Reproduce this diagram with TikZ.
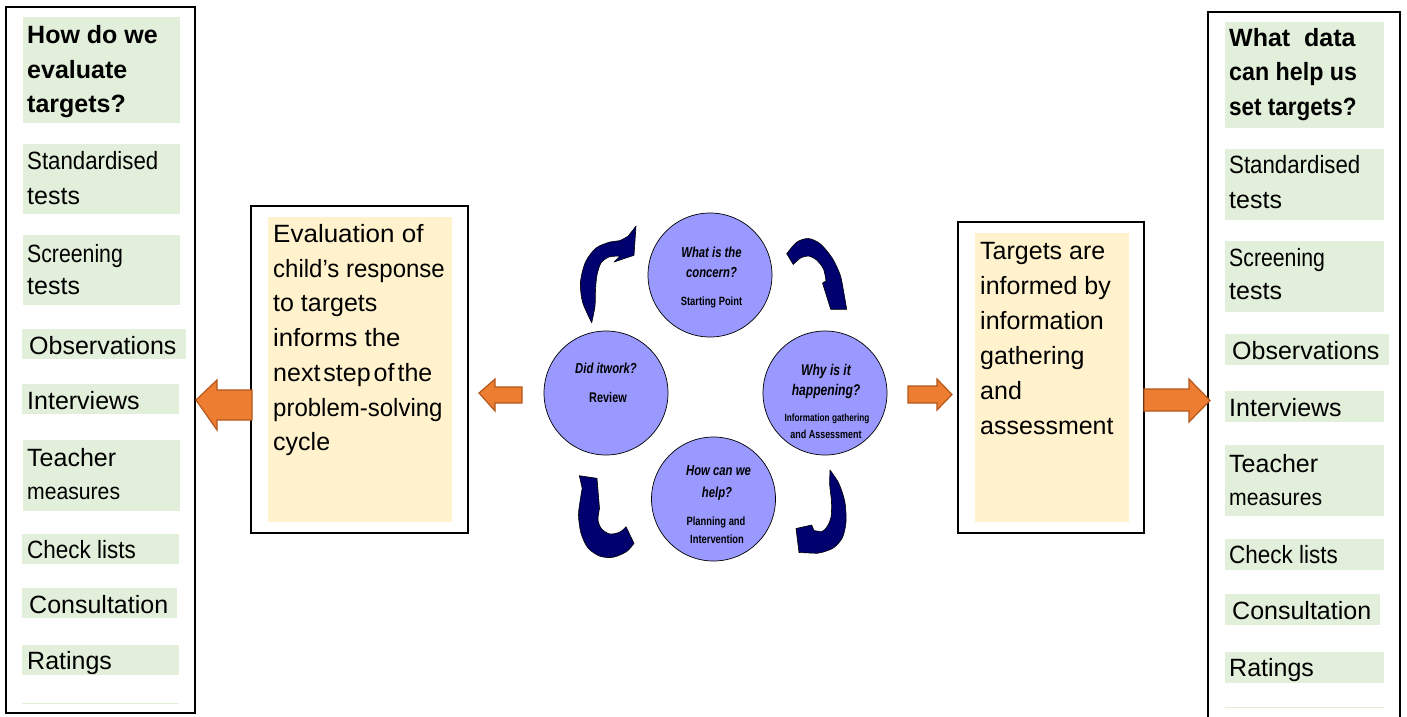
\documentclass[tikz,border=0pt]{standalone}
\usepackage{fontspec}
\setmainfont{Liberation Sans}
\newfontfamily\narrowf[FakeStretch=0.78]{Liberation Sans}
\usepackage{graphicx}
\definecolor{gfill}{HTML}{E2EFDA}
\definecolor{bfill}{HTML}{FFF2CC}
\definecolor{cfill}{HTML}{9999FF}
\definecolor{navyc}{HTML}{00006E}
\definecolor{ofill}{HTML}{ED7D31}
\definecolor{oline}{HTML}{B4581C}
\newcommand\sx[2]{\scalebox{#1}[1]{#2}}
\tikzset{
  ln/.style={anchor=base west, inner sep=0pt, font=\fontsize{25}{30}\selectfont},
  lnb/.style={ln, font=\fontsize{25}{30}\selectfont\bfseries},
  ct/.style={anchor=base, inner sep=0pt, font=\narrowf\fontsize{14.5}{16}\selectfont\bfseries\itshape},
  cs/.style={anchor=base, inner sep=0pt, font=\narrowf\fontsize{12}{14}\selectfont\bfseries},
  circ/.style={circle, draw=black, line width=0.7pt, fill=cfill, minimum size=124pt, inner sep=0pt},
  frame/.style={draw=black, line width=1.8pt},
  barrow/.style={fill=ofill, draw=oline, line width=1.2pt, line join=miter},
  carrow/.style={fill=navyc, draw=black, line width=0.6pt, line join=round},
}
\begin{document}
\begin{tikzpicture}[x=1pt,y=-1pt]
\useasboundingbox (0,0) rectangle (1407,716);
\fill[white] (0,0) rectangle (1407,716);

% ---------- left column ----------
\draw[frame] (6,7) rectangle (195,713);
\fill[gfill] (23,17) rectangle (180,123);
\fill[gfill] (23,144) rectangle (180,214);
\fill[gfill] (23,235) rectangle (180,305);
\fill[gfill] (22,329) rectangle (186,359);
\fill[gfill] (22,384) rectangle (179,414);
\fill[gfill] (23,440) rectangle (180,511);
\fill[gfill] (22,534) rectangle (179,564);
\fill[gfill] (22,588) rectangle (177,618);
\fill[gfill] (22,645) rectangle (179,675);
\fill[gfill] (22,702.5) rectangle (179,704);

\node[lnb] (lt1) at (27,43.5) {How do we};
\node[lnb] (lt2) at (27,78) {evaluate};
\node[lnb] (lt3) at (27,112.5) {targets?};
\node[ln] (ls1) at (27,169) {\sx{0.89}{Standardised}};
\node[ln] (ls2) at (27,204) {tests};
\node[ln] (lsc1) at (27,262) {\sx{0.85}{Screening}};
\node[ln] (lsc2) at (27,294) {tests};
\node[ln] (lob) at (29,354) {Observations};
\node[ln] (lin) at (27,409) {Interviews};
\node[ln] (ltm1) at (27,466) {Teacher};
\node[ln, font=\fontsize{23}{28}\selectfont] (ltm2) at (27,499) {\sx{0.92}{measures}};
\node[ln] (lcl) at (27,558) {\sx{0.9}{Check lists}};
\node[ln] (lco) at (29,613) {Consultation};
\node[ln] (lra) at (27,669) {Ratings};

% ---------- right column ----------
\draw[frame] (1208,12) rectangle (1400,720);
\fill[gfill] (1225,22) rectangle (1384,128);
\fill[gfill] (1225,149) rectangle (1384,220);
\fill[gfill] (1225,241) rectangle (1384,312);
\fill[gfill] (1225,334) rectangle (1389,365);
\fill[gfill] (1225,391) rectangle (1384,422);
\fill[gfill] (1225,445) rectangle (1384,516);
\fill[gfill] (1225,539) rectangle (1384,570);
\fill[gfill] (1225,594) rectangle (1380,625);
\fill[gfill] (1225,652) rectangle (1384,683);
\fill[gfill] (1225,706.5) rectangle (1384,708);

\node[lnb] (rt1) at (1229,46) {What\ \ data};
\node[lnb] (rt2) at (1229,80.5) {\sx{0.93}{can help us}};
\node[lnb] (rt3) at (1229,115) {\sx{0.9}{set targets?}};
\node[ln] (rs1) at (1229,173) {\sx{0.89}{Standardised}};
\node[ln] (rs2) at (1229,208) {tests};
\node[ln] (rsc1) at (1229,266) {\sx{0.85}{Screening}};
\node[ln] (rsc2) at (1229,299) {tests};
\node[ln] (rob) at (1232,359) {Observations};
\node[ln] (rin) at (1229,416) {Interviews};
\node[ln] (rtm1) at (1229,472) {Teacher};
\node[ln, font=\fontsize{23}{28}\selectfont] (rtm2) at (1229,505) {\sx{0.92}{measures}};
\node[ln] (rcl) at (1229,563) {\sx{0.9}{Check lists}};
\node[ln] (rco) at (1232,619) {Consultation};
\node[ln] (rra) at (1229,676) {Ratings};

% ---------- middle boxes ----------
\draw[frame, line width=1.5pt] (251,206) rectangle (468,533);
\fill[bfill] (268,217) rectangle (452,522);
\node[ln] (m1) at (273,242) {\sx{1.04}{Evaluation of}};
\node[ln] (m2) at (273,277) {\sx{0.96}{child’s response}};
\node[ln] (m3) at (273,311.5) {to targets};
\node[ln] (m4) at (273,346) {\sx{1.03}{informs the}};
\node[ln] (m5) at (273,381) {next\hspace{3pt}step\hspace{3pt}of\hspace{3pt}the};
\node[ln] (m6) at (273,416) {\sx{0.96}{problem-solving}};
\node[ln] (m7) at (273,450.5) {cycle};

\draw[frame, line width=1.5pt] (958,222) rectangle (1144,533);
\fill[bfill] (975,233) rectangle (1129,522);
\node[ln] (n1) at (980,259) {Targets are};
\node[ln] (n2) at (980,294) {informed by};
\node[ln] (n3) at (980,329) {information};
\node[ln] (n4) at (980,364) {gathering};
\node[ln] (n5) at (980,399) {and};
\node[ln] (n6) at (980,434) {assessment};

% ---------- orange block arrows ----------
\draw[barrow] (252,390) -- (217,390) -- (217,380) -- (196,400) -- (217,430) -- (217,420) -- (252,420) -- cycle;
\draw[barrow] (522,387) -- (495,387) -- (495,379) -- (479,393) -- (495,411) -- (495,403) -- (522,403) -- cycle;
\draw[barrow] (908,386) -- (937,386) -- (937,379) -- (952,394.5) -- (937,410) -- (937,403) -- (908,403) -- cycle;
\draw[barrow] (1144,389) -- (1189,389) -- (1189,379) -- (1210,400.5) -- (1189,422) -- (1189,411) -- (1144,411) -- cycle;

% ---------- circles ----------
\node[circ] (ctop) at (710,275) {};
\node[circ] (cleft) at (606,393) {};
\node[circ] (cright) at (825,393) {};
\node[circ] (cbot) at (713.5,499) {};

\node[ct] (t1a) at (711.5,257) {What is the};
\node[ct] (t1b) at (711.5,277) {concern?};
\node[cs] (t1c) at (711.5,305) {Starting Point};

\node[ct] (t2a) at (606,373) {Did itwork?};
\node[cs, font=\narrowf\fontsize{14}{16}\selectfont\bfseries] (t2b) at (608,402) {Review};

\node[ct, font=\narrowf\fontsize{15.5}{18}\selectfont\bfseries\itshape] (t3a) at (826,375) {Why is it};
\node[ct, font=\narrowf\fontsize{15.5}{18}\selectfont\bfseries\itshape] (t3b) at (826,395.5) {happening?};
\node[cs, font=\narrowf\fontsize{10.5}{12}\selectfont\bfseries] (t3c) at (827,421.5) {Information gathering};
\node[cs, font=\narrowf\fontsize{11.5}{13}\selectfont\bfseries] (t3d) at (826,438) {and Assessment};

\node[ct] (t4a) at (718.5,475) {How can we};
\node[ct] (t4b) at (717,497) {help?};
\node[cs] (t4c) at (716,525) {Planning and};
\node[cs] (t4d) at (717,543) {Intervention};

% ---------- curved arrows ----------
\filldraw[carrow] plot[smooth] coordinates {(591.7,322.7) (582.5,302) (580.5,282) (585.5,262) (596,248) (610,242) (620,240.5) (628.3,236)}
  -- (636,226) -- (634,255.3) -- (614,262) -- (620,256)
  -- plot[smooth] coordinates {(620,256) (609,257) (601,263) (597,275) (595.5,290) (595,306) (591.7,322.7)} -- cycle;

\filldraw[carrow] plot[smooth] coordinates {(786.7,253.7) (796.7,242.2) (808.3,238.5) (820.5,244) (832.5,258.5) (840.3,275.3) (843.7,292) (846.7,309.3)}
  -- (830.7,309.3) -- (822.5,283) -- (826,281)
  -- plot[smooth] coordinates {(826,281) (823.5,269) (816.5,260) (808.5,256) (800.5,258) (793.3,264.5)} -- cycle;

\filldraw[carrow] plot[smooth] coordinates {(830,470) (838.8,483.3) (844.8,501.7) (846,521.7) (842.5,537.5) (834,547.5) (823.3,552) (816.7,553.3)}
  -- (799,552.5) -- (796,528.5) -- (811.7,525) -- (814,530.5)
  -- plot[smooth] coordinates {(814,530.5) (822.3,531.3) (827.3,526.3) (831,517.3) (831.5,501.7) (829.7,485) (830,470)} -- cycle;

\filldraw[carrow] (579.3,475.7) -- (597,478.3) -- (599.5,508.3)
  -- plot[smooth] coordinates {(599.5,508.3) (598,520) (601.7,529) (610,534) (620,532) (626,526.7)}
  -- (634,543.3)
  -- plot[smooth] coordinates {(634,543.3) (626.7,551.5) (613.3,557.2) (600,556.2) (588,548) (581,533.3) (578.5,515) (580.5,498.3) (582.2,488.3)} -- cycle;
\end{tikzpicture}
\end{document}
